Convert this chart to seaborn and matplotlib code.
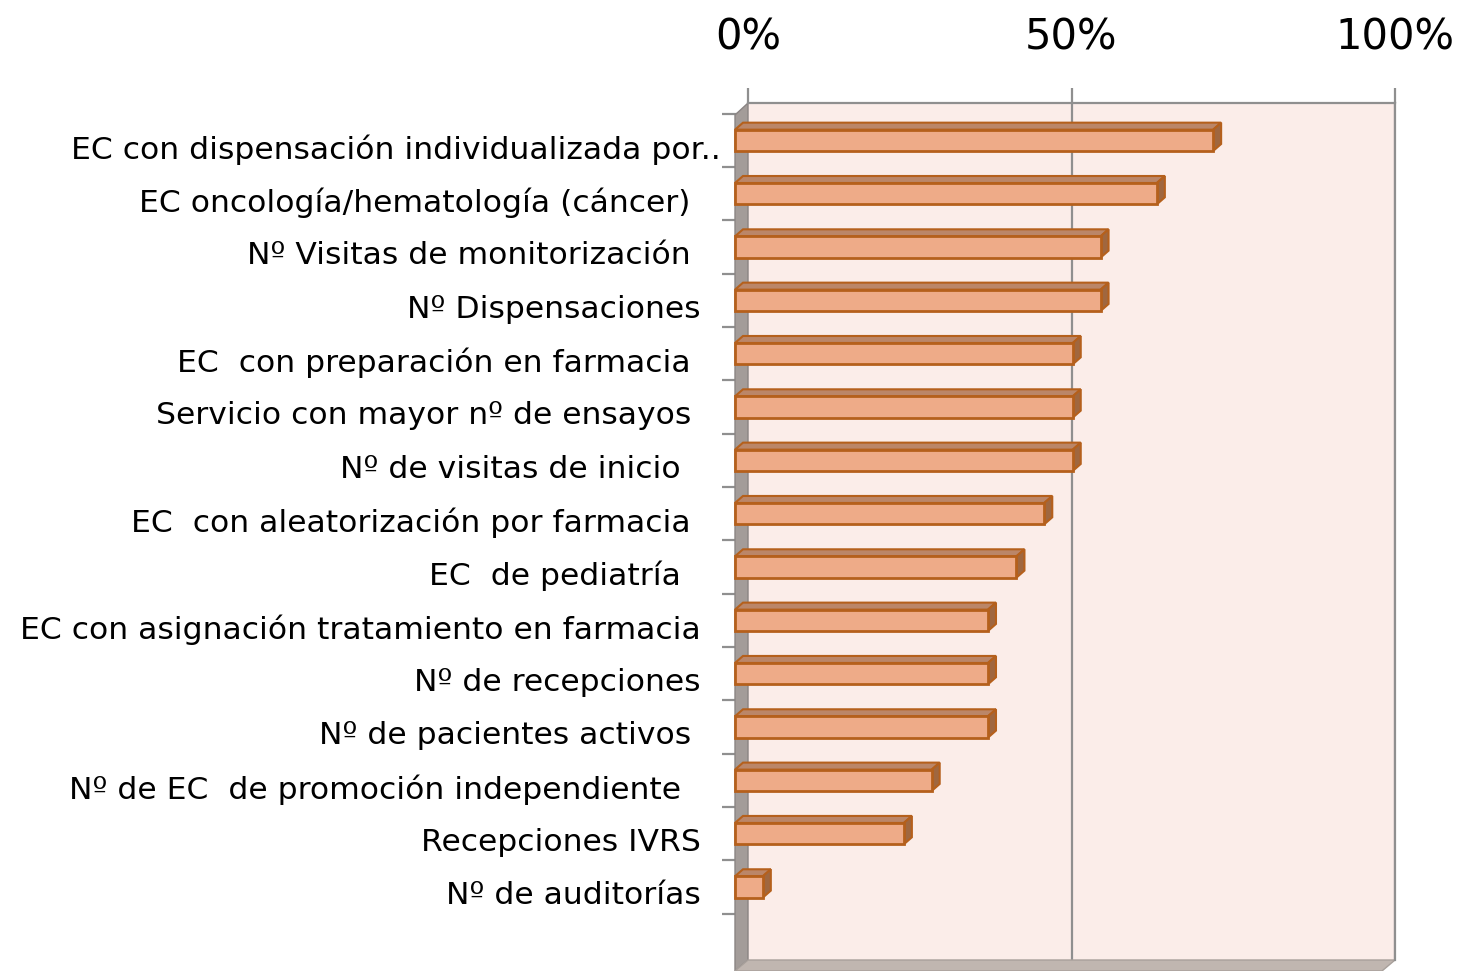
import numpy as np
import pandas as pd
import matplotlib
matplotlib.use("Agg")
import matplotlib.pyplot as plt
import matplotlib.transforms as mtrans
import seaborn as sns
from matplotlib.patches import Polygon

# data (share of hospitals, %)
labels = [
    "EC con dispensación individualizada por..",
    "EC oncología/hematología (cáncer) ",
    "Nº Visitas de monitorización ",
    "Nº Dispensaciones",
    "EC  con preparación en farmacia ",
    "Servicio con mayor nº de ensayos ",
    "Nº de visitas de inicio  ",
    "EC  con aleatorización por farmacia ",
    "EC  de pediatría  ",
    "EC con asignación tratamiento en farmacia",
    "Nº de recepciones",
    "Nº de pacientes activos ",
    "Nº de EC  de promoción independiente  ",
    "Recepciones IVRS",
    "Nº de auditorías",
]
values = [73.9, 65.2, 56.5, 56.5, 52.2, 52.2, 52.2, 47.8, 43.5, 39.1, 39.1, 39.1, 30.4, 26.1, 4.3]
xticks = [0, 50, 100]
xticklabels = ["0%", "50%", "100%"]

df = pd.DataFrame({"item": labels, "pct": values})

sns.set_style("white")
plt.rcParams["font.family"] = ["DejaVu Sans"]

W, H = 1458, 971
fig = plt.figure(figsize=(W / 100, H / 100), dpi=100)
ax = fig.add_axes([748 / W, 1 - 960 / H, (1395 - 748) / W, (960 - 103) / H])

face = "#eeab88"
edge = "#b5601c"
top_c = "#bb8668"
side_c = "#a0673f"
wall_c = "#a39c99"
floor_c = "#c0b6b0"
back_c = "#fbede9"
grid_c = "#8f8f8f"

sns.barplot(data=df, x="pct", y="item", orient="h", color=face, edgecolor=edge,
            linewidth=2, width=0.4, saturation=1, ax=ax, zorder=3)

ax.set_xlim(0, 100)
y_top, y_bot = -0.70, 15.37
ax.set_ylim(y_bot, y_top)
ax.set_facecolor(back_c)

# pixel -> data conversions for the pseudo 3D look
px_x = 100 / (1395 - 748)
px_y = (y_bot - y_top) / (960 - 103)
shift = 13 * px_x      # front plane sits left of the back wall
dx, dy = 8 * px_x, 7 * px_y

for p in ax.patches:
    x0, y0, w, h = p.get_x(), p.get_y(), p.get_width(), p.get_height()
    x0 -= shift
    p.set_x(x0)
    p.set_clip_on(False)
    top = Polygon([(x0, y0), (x0 + w, y0), (x0 + w + dx, y0 - dy), (x0 + dx, y0 - dy)],
                  closed=True, facecolor=top_c, edgecolor=edge, lw=1.5, zorder=2.9, clip_on=False)
    side = Polygon([(x0 + w, y0), (x0 + w + dx, y0 - dy), (x0 + w + dx, y0 + h - dy), (x0 + w, y0 + h)],
                   closed=True, facecolor=side_c, edgecolor=edge, lw=1.5, zorder=2.9, clip_on=False)
    ax.add_patch(top)
    ax.add_patch(side)

# side wall and floor
wall = Polygon([(-shift, y_top + 12 * px_y), (0, y_top), (0, y_bot), (-shift, y_bot + 11 * px_y)],
               closed=True, facecolor=wall_c, edgecolor="#8a8483", lw=1, zorder=2, clip_on=False)
floor = Polygon([(-shift, y_bot + 11 * px_y), (0, y_bot), (100, y_bot), (100 - shift, y_bot + 11 * px_y)],
                closed=True, facecolor=floor_c, edgecolor="#a8a09b", lw=1, zorder=2, clip_on=False)
ax.add_patch(wall)
ax.add_patch(floor)

# gridlines on the back wall
for t in xticks[1:]:
    ax.axvline(t, color=grid_c, lw=1.6, zorder=0.5)

ax.xaxis.tick_top()
ax.set_xticks(xticks)
ax.set_xticklabels(xticklabels, fontsize=30, color="black")
ax.tick_params(axis="x", direction="out", top=True, length=11, width=1.6, color=grid_c, pad=21)

# category labels at the bars, tick marks between categories
n = len(labels)
ax.set_yticks(np.arange(n), labels=labels, fontsize=22.6, color="black")
ax.set_yticks(np.arange(n + 1) - 0.5, minor=True)
ax.tick_params(axis="y", which="major", left=True, length=0, pad=34)
ax.tick_params(axis="y", which="minor", left=True, direction="out", length=19, width=1.6, color=grid_c)
ax.set_xlabel("")
ax.set_ylabel("")

# labels sit a little below the bar centres in the original
down = mtrans.ScaledTranslation(0, -6 / 100, fig.dpi_scale_trans)
for i, lab in enumerate(ax.get_yticklabels()):
    off = down
    if i == 0:
        off = down + mtrans.ScaledTranslation(20 / 100, 0, fig.dpi_scale_trans)
    lab.set_transform(lab.get_transform() + off)

for s in ["left", "bottom"]:
    ax.spines[s].set_visible(False)
ax.spines["top"].set_color(grid_c)
ax.spines["top"].set_linewidth(1.6)
ax.spines["right"].set_color(grid_c)
ax.spines["right"].set_linewidth(1.6)

fig.savefig("out.png", dpi=100)
